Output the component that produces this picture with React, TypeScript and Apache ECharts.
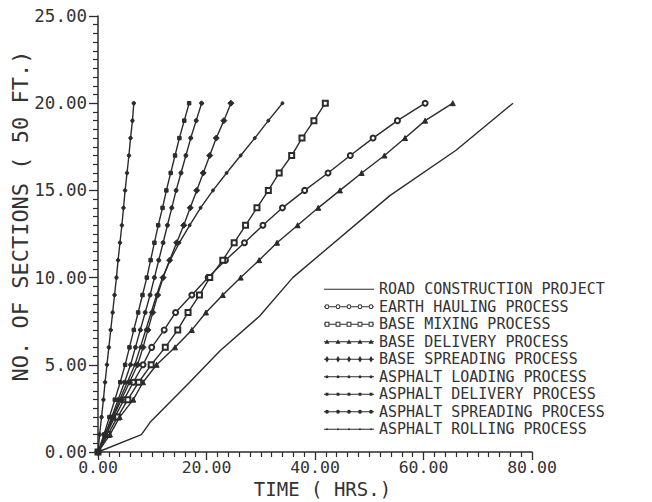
import React, { useEffect, useRef } from "react";
import * as echarts from "echarts";

// ---- data ----
const sections = [0, 1, 2, 3, 4, 5, 6, 7, 8, 9, 10, 11, 12, 13, 14, 15, 16, 17, 18, 19, 20];

const roadTime = [0, 8, 9.6, 16.9, 22.5, 29.8, 35.9, 53.8, 66, 76.5];
const roadSections = [0, 1, 1.7, 4, 5.8, 7.8, 10, 14.7, 17.3, 20];

const earthHaulingTime = [0, 1.5, 3.1, 4.8, 6.5, 8.3, 9.9, 12.2, 14.3, 17.3, 20.3, 23.5, 27.0, 30.4, 34.0, 38.1, 42.4, 46.5, 50.7, 55.2, 60.3];
const baseMixingTime = [0, 1.8, 3.6, 5.5, 7.5, 9.8, 12.4, 14.7, 16.6, 18.7, 20.6, 23.0, 25.1, 27.2, 29.3, 31.4, 33.4, 35.7, 37.6, 39.8, 41.9];
const baseDeliveryTime = [0, 2.2, 4.0, 6.5, 8.3, 10.8, 14.2, 17.3, 19.9, 23.0, 26.3, 29.7, 33.0, 36.8, 40.6, 44.6, 48.6, 52.8, 56.6, 60.3, 65.4];
const baseSpreadingTime = [0, 1.4, 2.8, 4.3, 5.8, 7.3, 8.3, 9.2, 10.1, 11.0, 12.0, 13.2, 14.5, 15.8, 17.0, 18.2, 19.4, 20.6, 21.8, 23.2, 24.5];
const asphaltLoadingTime = [0, 0.3, 0.65, 1.0, 1.3, 1.65, 2.0, 2.35, 2.7, 3.05, 3.4, 3.7, 4.05, 4.4, 4.7, 5.0, 5.35, 5.7, 6.0, 6.35, 6.6];
const asphaltDeliveryTime = [0, 1.1, 2.1, 3.1, 4.1, 5.0, 5.8, 6.6, 7.4, 8.2, 9.0, 9.7, 10.4, 11.1, 11.9, 12.6, 13.4, 14.2, 15.0, 15.9, 16.8];
const asphaltSpreadingTime = [0, 1.3, 2.5, 3.7, 4.9, 6.0, 6.9, 7.8, 8.7, 9.6, 10.4, 11.2, 12.0, 12.8, 13.6, 14.4, 15.3, 16.2, 17.1, 18.1, 19.1];
const asphaltRollingTime = [0, 1.4, 2.7, 4.0, 5.4, 6.8, 7.8, 8.8, 9.8, 10.8, 11.9, 13.3, 15.0, 16.9, 18.9, 21.2, 23.7, 26.3, 28.9, 31.4, 34.0];

const seriesNames = [
  "ROAD CONSTRUCTION PROJECT",
  "EARTH HAULING PROCESS",
  "BASE MIXING PROCESS",
  "BASE DELIVERY PROCESS",
  "BASE SPREADING PROCESS",
  "ASPHALT LOADING PROCESS",
  "ASPHALT DELIVERY PROCESS",
  "ASPHALT SPREADING PROCESS",
  "ASPHALT ROLLING PROCESS",
];

const xTitle = "TIME ( HRS.)";
const yTitle = "NO. OF SECTIONS ( 50 FT.)";

// ---- style helpers ----
const INK = "#2b2b2b";
const FONT = "DejaVu Sans Mono";
const LW = 50; // legend icon width
const LH = 8; // legend icon height
const MX = [3, 14, 25, 36, 47];

const anchor = `M0 0 L0 0 L0 0 Z M${LW} ${LH} L${LW} ${LH} L${LW} ${LH} Z `;
const seg = (x0: number, x1: number) =>
  `M${x0} 3.4 L${x1} 3.4 L${x1} 4.6 L${x0} 4.6 Z `;
const lineFull = () => seg(0, LW);
const linesBetween = (r: number) => {
  let d = "";
  d += seg(0, MX[0] - r);
  for (let i = 0; i < MX.length - 1; i++) d += seg(MX[i] + r, MX[i + 1] - r);
  d += seg(MX[MX.length - 1] + r, LW);
  return d;
};
const circ = (cx: number, r: number, cw: boolean) => {
  const s = cw ? 1 : 0;
  return `M${cx - r} 4 A${r} ${r} 0 1 ${s} ${cx + r} 4 A${r} ${r} 0 1 ${s} ${cx - r} 4 Z `;
};
const ring = (cx: number) => circ(cx, 2.4, true) + circ(cx, 1.4, false);
const sqRing = (cx: number) =>
  `M${cx - 2.4} 1.6 L${cx + 2.4} 1.6 L${cx + 2.4} 6.4 L${cx - 2.4} 6.4 Z ` +
  `M${cx - 1.4} 2.6 L${cx - 1.4} 5.4 L${cx + 1.4} 5.4 L${cx + 1.4} 2.6 Z `;
const tri = (cx: number) => `M${cx} 1.4 L${cx + 2.5} 6 L${cx - 2.5} 6 Z `;
const dia = (cx: number) => `M${cx} 0.8 L${cx + 2} 4 L${cx} 7.2 L${cx - 2} 4 Z `;
const dot = (cx: number, r: number) => circ(cx, r, true);
const sq = (cx: number, h: number) => `M${cx - h} ${4 - h} L${cx + h} ${4 - h} L${cx + h} ${4 + h} L${cx - h} ${4 + h} Z `;

const icons = [
  "path://" + anchor + lineFull(),
  "path://" + anchor + linesBetween(2.4) + MX.map(ring).join(""),
  "path://" + anchor + linesBetween(2.4) + MX.map(sqRing).join(""),
  "path://" + anchor + lineFull() + MX.map(tri).join(""),
  "path://" + anchor + lineFull() + MX.map(dia).join(""),
  "path://" + anchor + lineFull() + MX.map((c) => dot(c, 1.5)).join(""),
  "path://" + anchor + lineFull() + MX.map((c) => sq(c, 1.4)).join(""),
  "path://" + anchor + lineFull() + MX.map((c) => dot(c, 1.9)).join(""),
  "path://" + anchor + lineFull() + MX.map((c) => dot(c, 1.1)).join(""),
];

const processTimes = [
  earthHaulingTime,
  baseMixingTime,
  baseDeliveryTime,
  baseSpreadingTime,
  asphaltLoadingTime,
  asphaltDeliveryTime,
  asphaltSpreadingTime,
  asphaltRollingTime,
];
const processSymbols = ["emptyCircle", "emptyRect", "triangle", "diamond", "circle", "rect", "circle", "circle"];
const processSymbolSizes = [5, 5, 5, 6, 3.5, 3.5, 4, 3];

export default function App() {
  const ref = useRef<HTMLDivElement>(null);
  useEffect(() => {
    if (!ref.current) return;
    const chart = echarts.init(ref.current, null, { renderer: "svg" });

    const series: any[] = [
      {
        name: seriesNames[0],
        type: "line",
        data: roadTime.map((t, i) => [t, roadSections[i]]),
        showSymbol: false,
        symbol: "none",
        lineStyle: { color: INK, width: 1.4 },
        itemStyle: { color: INK },
      },
      ...processTimes.map((times, k) => ({
        name: seriesNames[k + 1],
        type: "line",
        data: times.map((t, i) => [t, sections[i]]),
        symbol: processSymbols[k],
        symbolSize: processSymbolSizes[k],
        showAllSymbol: true,
        lineStyle: { color: INK, width: 1.4 },
        itemStyle: { color: INK, borderColor: INK, borderWidth: 1 },
      })),
    ];

    chart.setOption({
      animation: false,
      backgroundColor: "#ffffff",
      grid: {
        left: 98,
        right: 120,
        top: 16,
        bottom: 50,
        containLabel: false,
        outerBoundsMode: "none",
      },
      legend: {
        orient: "vertical",
        left: 319,
        top: 275.5,
        itemWidth: LW,
        itemHeight: LH,
        itemGap: 0,
        selectedMode: false,
        data: seriesNames.map((n, i) => ({ name: n, icon: icons[i] })),
        itemStyle: { color: INK, borderWidth: 0 },
        textStyle: { fontFamily: FONT, fontSize: 15, color: "#333", lineHeight: 17.5 },
      },
      xAxis: {
        type: "value",
        min: 0,
        max: 80,
        interval: 20,
        name: xTitle,
        nameLocation: "middle",
        nameGap: 27,
        nameMoveOverlap: false,
        nameTextStyle: { fontFamily: FONT, fontSize: 19, color: "#333", padding: [0, 0, 0, 15] },
        axisLine: { show: true, lineStyle: { color: INK, width: 1.5 } },
        axisTick: { show: true, inside: false, length: 8, lineStyle: { color: INK, width: 1.3 } },
        minorTick: { show: true, splitNumber: 10, length: 5, lineStyle: { color: INK, width: 1.2 } },
        splitLine: { show: false },
        axisLabel: {
          fontFamily: FONT,
          fontSize: 16.5,
          color: "#333",
          margin: 7,
          formatter: (v: number) => v.toFixed(2),
        },
      },
      yAxis: {
        type: "value",
        min: 0,
        max: 25,
        interval: 5,
        name: yTitle,
        nameLocation: "middle",
        nameGap: 67,
        nameMoveOverlap: false,
        nameRotate: 90,
        nameTextStyle: { fontFamily: FONT, fontSize: 22, color: "#333", padding: [0, 0, 0, 36] },
        axisLine: { show: true, lineStyle: { color: INK, width: 1.5 } },
        axisTick: { show: true, inside: false, length: 9, lineStyle: { color: INK, width: 1.3 } },
        minorTick: { show: true, splitNumber: 10, length: 5, lineStyle: { color: INK, width: 1.2 } },
        splitLine: { show: false },
        axisLabel: {
          fontFamily: FONT,
          fontSize: 17.5,
          color: "#333",
          margin: 11,
          formatter: (v: number) => v.toFixed(2),
        },
      },
      series,
    });
    return () => chart.dispose();
  }, []);

  return (
    <div
      ref={ref}
      style={{ position: "fixed", left: 0, top: 0, width: 652, height: 502, background: "#fff" }}
    />
  );
}
